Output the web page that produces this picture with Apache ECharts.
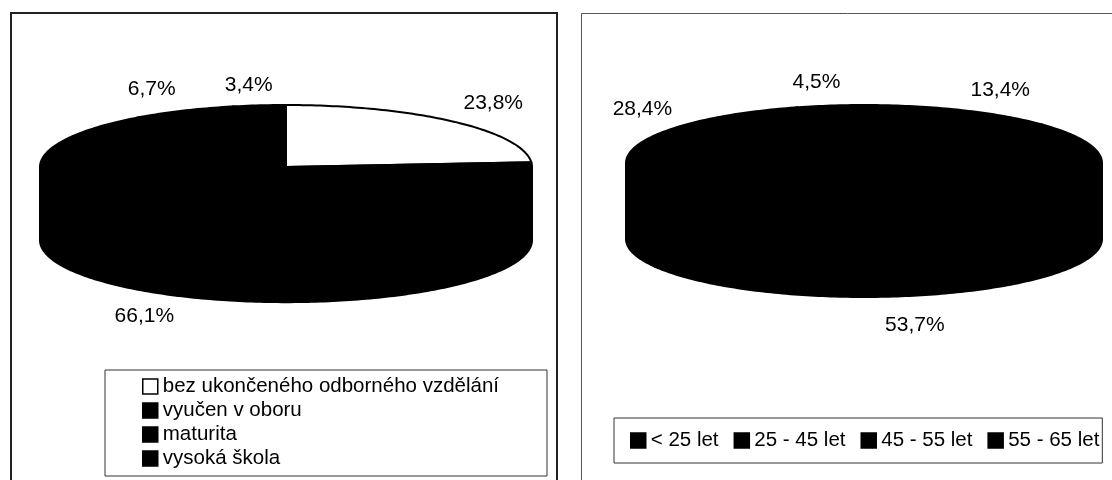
<!DOCTYPE html>
<html>
<head>
<meta charset="utf-8">
<style>
  html, body { margin: 0; background: #fff; }
  #chart { width: 1112px; height: 480px; }
</style>
<script src="https://cdn.jsdelivr.net/npm/echarts@6/dist/echarts.min.js"></script>
</head>
<body>
<div id="chart"></div>
<script>
const educationNames = ['bez ukončeného odborného vzdělání', 'vyučen v oboru', 'maturita', 'vysoká škola'];
const educationValues = [23.8, 66.1, 6.7, 3.4];
const educationColors = ['#ffffff', '#000000', '#000000', '#000000'];

const ageNames = ['< 25 let', '25 - 45 let', '45 - 55 let', '55 - 65 let'];
const ageValues = [13.4, 53.7, 28.4, 4.5];
const ageColors = ['#000000', '#000000', '#000000', '#000000'];

// label nudges from the slice's rim point, px
const educationNudges = [[40, -18], [-39, 93], [-33, -21], [-11, -20]];
const ageNudges = [[39, -20], [-86, 115], [-2, -31], [-14, -23]];

const FONT = '"Liberation Sans", Arial, sans-serif';
const FONT_SIZE = 21;

function rimPoint(api, deg, drop) {
  const rad = (deg * Math.PI) / 180;
  return api.coord([Math.sin(rad), Math.cos(rad) - drop]);
}

// whole degrees between from and to, both ends included
function arcAngles(from, to) {
  const angles = [from];
  for (let a = Math.ceil(from); a < to; a += 1) angles.push(a);
  angles.push(to);
  return angles;
}

function sliceRenderer(depth, nudge) {
  return (params, api) => {
    const start = api.value(0);
    const end = api.value(1);
    const style = api.style();
    const children = [];

    // side wall, only the part facing the viewer
    const wallFrom = Math.max(start, 90);
    const wallTo = Math.min(end, 270);
    if (wallTo > wallFrom) {
      const arc = arcAngles(wallFrom, wallTo);
      const wall = arc.map((a) => rimPoint(api, a, 0))
        .concat(arc.slice().reverse().map((a) => rimPoint(api, a, depth)));
      children.push({
        type: 'polygon',
        shape: { points: wall },
        style: { fill: '#000', stroke: '#000', lineWidth: 2 }
      });
    }

    const top = [api.coord([0, 0])].concat(arcAngles(start, end).map((a) => rimPoint(api, a, 0)));
    children.push({
      type: 'polygon',
      shape: { points: top },
      style: { fill: style.fill, stroke: '#000', lineWidth: 2 }
    });

    const mid = rimPoint(api, (start + end) / 2, 0);
    children.push({
      type: 'text',
      x: mid[0] + nudge[0],
      y: mid[1] + nudge[1],
      style: {
        text: api.value(2).toFixed(1).replace('.', ',') + '%',
        fill: '#000',
        font: FONT_SIZE + 'px ' + FONT,
        align: 'center',
        verticalAlign: 'middle'
      }
    });
    return { type: 'group', children };
  };
}

function pieSeries(names, values, colors, nudges, axisIndex, depth) {
  const total = values.reduce((sum, v) => sum + v, 0);
  let running = 0;
  return names.map((name, i) => {
    const start = (running / total) * 360;
    running += values[i];
    const end = (running / total) * 360;
    return {
      name,
      type: 'custom',
      coordinateSystem: 'cartesian2d',
      xAxisIndex: axisIndex,
      yAxisIndex: axisIndex,
      clip: false,
      silent: true,
      itemStyle: { color: colors[i] },
      renderItem: sliceRenderer(depth, nudges[i]),
      data: [[start, end, values[i]]],
      encode: { x: 0, y: 1 }
    };
  });
}

function hiddenAxis(gridIndex) {
  return { type: 'value', gridIndex, min: -1, max: 1, show: false };
}

const legendBase = {
  icon: 'rect',
  itemWidth: 15,
  itemHeight: 15,
  borderColor: '#333',
  borderWidth: 1,
  selectedMode: false,
  itemStyle: { borderColor: '#000', borderWidth: 1.5 },
  textStyle: { color: '#000', fontFamily: FONT, fontSize: 20.5 }
};

const chart = echarts.init(document.getElementById('chart'));

chart.setOption({
  animation: false,
  backgroundColor: '#fff',
  graphic: [
    {
      type: 'rect',
      z: -1,
      shape: { x: 11, y: 13, width: 546, height: 480 },
      style: { fill: 'none', stroke: '#222', lineWidth: 2 },
      silent: true
    },
    {
      type: 'rect',
      z: -1,
      shape: { x: 581.5, y: 13.5, width: 560, height: 480 },
      style: { fill: 'none', stroke: '#555', lineWidth: 1 },
      silent: true
    }
  ],
  grid: [
    { left: 40, width: 492, top: 105, height: 124 },
    { left: 626, width: 476, top: 105, height: 116 }
  ],
  xAxis: [hiddenAxis(0), hiddenAxis(1)],
  yAxis: [hiddenAxis(0), hiddenAxis(1)],
  legend: [
    {
      ...legendBase,
      data: educationNames,
      orient: 'vertical',
      left: 105,
      top: 370,
      height: 300,
      padding: [6, 48, 7, 37],
      itemGap: 3
    },
    {
      ...legendBase,
      data: ageNames,
      orient: 'horizontal',
      left: 614,
      top: 418,
      width: 600,
      padding: [12, 3, 12, 16],
      itemGap: 15
    }
  ],
  series: [
    ...pieSeries(educationNames, educationValues, educationColors, educationNudges, 0, 1.18),
    ...pieSeries(ageNames, ageValues, ageColors, ageNudges, 1, 1.31)
  ]
});
</script>
</body>
</html>
